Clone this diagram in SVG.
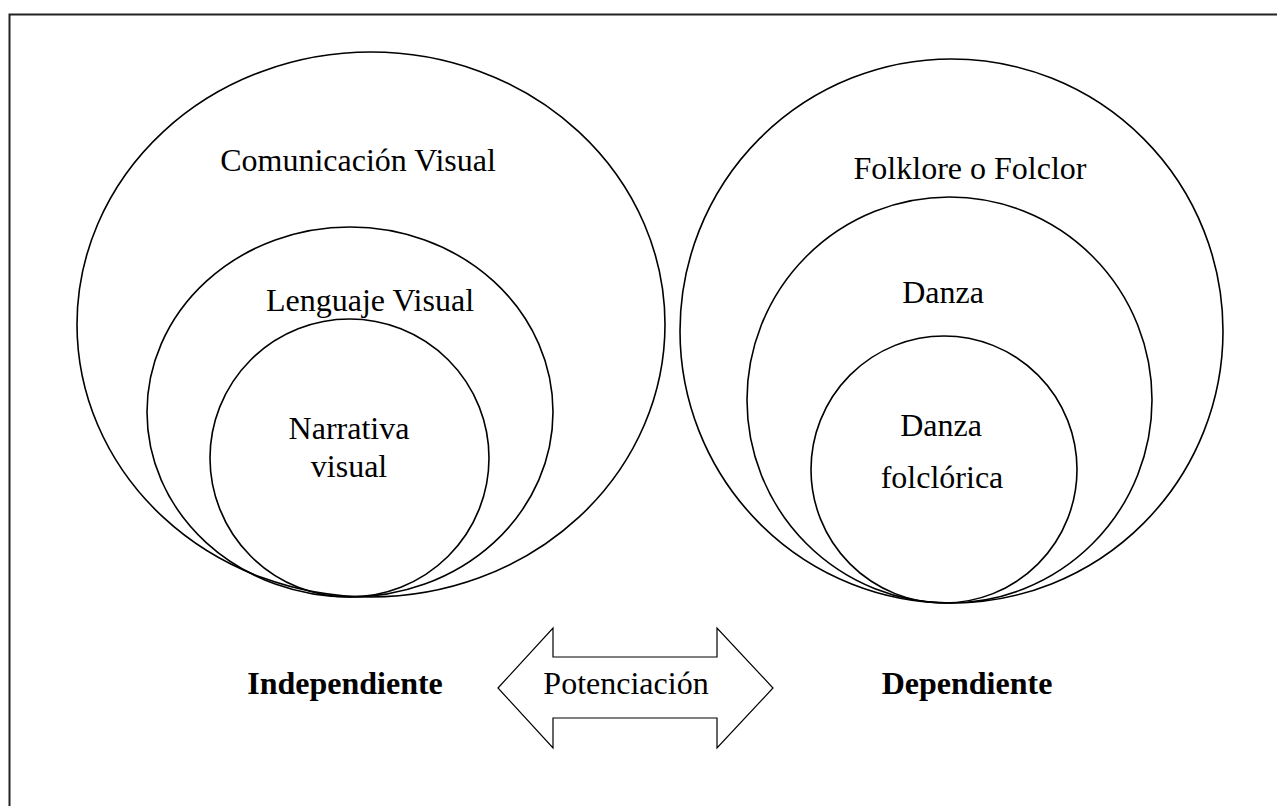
<svg xmlns="http://www.w3.org/2000/svg" width="1277" height="806" viewBox="0 0 1277 806">
<style>
.c{fill:none;stroke:#000;stroke-width:1.6}
.t{font-family:"Liberation Serif","Times New Roman",serif;font-size:32px;fill:#000;text-anchor:middle}
.b{font-weight:bold}
</style>
<rect width="1277" height="806" fill="#fff"/>
<g id="frame"><path d="M9.5,806 V14.5 H1277" fill="none" stroke="#222" stroke-width="2"/></g>
<g id="comunicacion-visual"><ellipse class="c" cx="371" cy="324.5" rx="294" ry="272.5"/><text class="t" x="358" y="171">Comunicación Visual</text></g>
<g id="lenguaje-visual"><ellipse class="c" cx="350" cy="412" rx="203" ry="185"/><text class="t" x="370" y="311">Lenguaje Visual</text></g>
<g id="narrativa-visual"><ellipse class="c" cx="349.5" cy="458" rx="139.5" ry="139"/><text class="t" x="349" y="439">Narrativa</text><text class="t" x="349" y="477">visual</text></g>
<g id="folklore"><ellipse class="c" cx="951.5" cy="331" rx="271.5" ry="272"/><text class="t" x="970" y="179">Folklore o Folclor</text></g>
<g id="danza"><ellipse class="c" cx="949.5" cy="400" rx="202.5" ry="203"/><text class="t" x="943" y="303">Danza</text></g>
<g id="danza-folclorica"><ellipse class="c" cx="944" cy="469.5" rx="133" ry="133.5"/><text class="t" x="941" y="436">Danza</text><text class="t" x="942" y="488">folclórica</text></g>
<g id="independiente"><text class="t b" x="345" y="694">Independiente</text></g>
<g id="dependiente"><text class="t b" x="967" y="694">Dependiente</text></g>
<g id="connectors"><g id="potenciacion"><polygon points="498,688 553,628 553,657 717,657 717,628 773,688 717,748 717,718 553,718 553,748" fill="#fff" stroke="#000" stroke-width="1.2" stroke-linejoin="miter"/><text class="t" x="626" y="694">Potenciación</text></g></g>
</svg>
